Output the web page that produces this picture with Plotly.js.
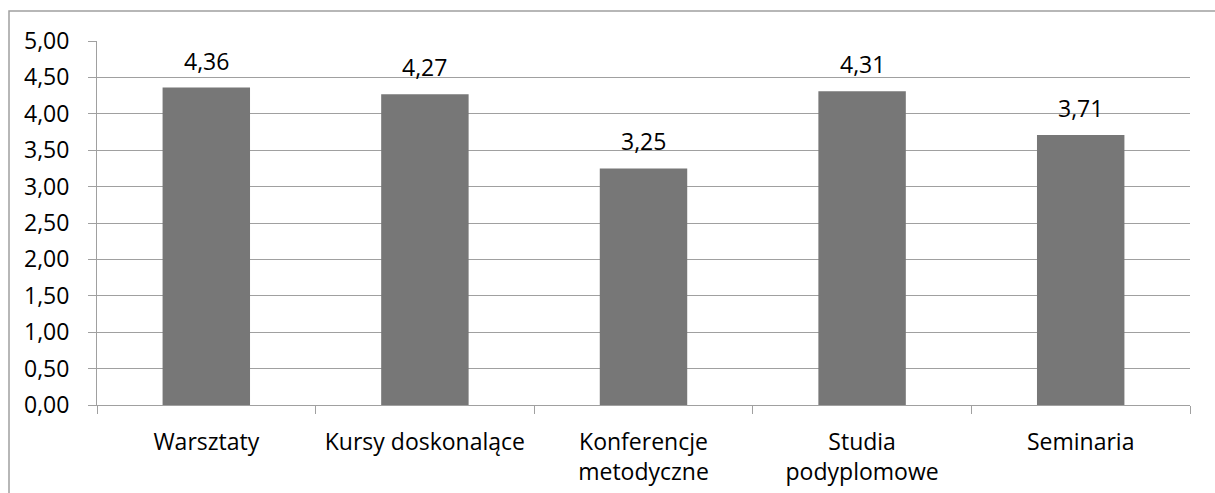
<!DOCTYPE html>
<html>
<head>
<meta charset="utf-8">
<script src="https://cdn.plot.ly/plotly-3.0.1.min.js"></script>
<style>
  html, body { margin: 0; padding: 0; background: #fff; }
  #chart { width: 1215px; height: 493px; }
</style>
</head>
<body>
<div id="chart"></div>
<script>
const categories = ["Warsztaty", "Kursy doskonalące", "Konferencje<br>metodyczne", "Studia<br>podyplomowe", "Seminaria"];
const values = [4.36, 4.27, 3.25, 4.31, 3.71];
const yTicks = [0, 0.5, 1, 1.5, 2, 2.5, 3, 3.5, 4, 4.5, 5];

const fontFam = "Open Sans, Noto Sans, sans-serif";

const trace = {
  type: "bar",
  x: categories,
  y: values,
  marker: { color: "#777777", line: { width: 0 } },
  width: 0.4,
  hoverinfo: "none"
};

const annotations = categories.map((c, i) => ({
  x: c, y: values[i], xref: "x", yref: "y",
  text: values[i].toFixed(2).replace(".", ","),
  showarrow: false, yanchor: "middle", yshift: 27,
  font: { family: fontFam, size: 23, color: "#000" }
}));

const layout = {
  width: 1215, height: 493,
  margin: { l: 97, r: 25, t: 41, b: 88 },
  paper_bgcolor: "#fff", plot_bgcolor: "#fff",
  separators: ",.",
  showlegend: false,
  bargap: 0.6,
  xaxis: {
    type: "category",
    showgrid: false,
    showline: true, linecolor: "#a0a0a0", linewidth: 1,
    ticks: "outside", tickson: "boundaries", ticklen: 8, tickcolor: "#a0a0a0",
    ticklabelstandoff: 16,
    tickfont: { family: fontFam, size: 23, color: "#000" },
    zeroline: false
  },
  yaxis: {
    range: [0, 5],
    tickvals: yTicks,
    tickformat: ".2f",
    showgrid: true, gridcolor: "#a0a0a0", gridwidth: 1,
    showline: true, linecolor: "#a0a0a0", linewidth: 1,
    ticks: "outside", ticklen: 8, tickcolor: "#a0a0a0",
    ticklabelstandoff: 14,
    tickfont: { family: fontFam, size: 23, color: "#000" },
    zeroline: false
  },
  annotations: annotations,
  shapes: [{
    type: "rect", xref: "paper", yref: "paper",
    x0: (9 - 97) / 1093, x1: (1240 - 97) / 1093,
    y0: (405 - 520) / 364, y1: (405 - 11) / 364,
    line: { color: "#a0a0a0", width: 1.5 }, fillcolor: "rgba(0,0,0,0)", layer: "below"
  }]
};

Plotly.newPlot("chart", [trace], layout, { staticPlot: true, displayModeBar: false });
</script>
</body>
</html>
